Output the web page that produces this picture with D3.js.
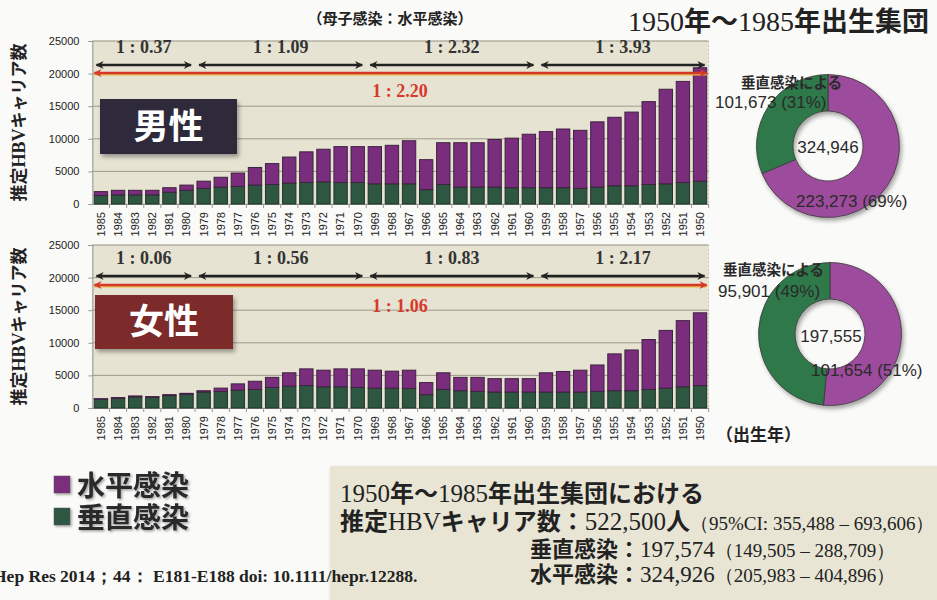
<!DOCTYPE html>
<html><head><meta charset="utf-8">
<script src="https://cdn.jsdelivr.net/npm/d3@7"></script>
<style>
html,body{margin:0;padding:0;background:#fafaf8;}
svg{display:block;}
</style></head><body>
<svg id="chart" width="937" height="600"></svg>
<script>
// Birth years, youngest cohort first (left to right)
const years = d3.range(1985, 1949, -1).map(String);

// Estimated HBV carriers per birth year (vertical = mother-to-child, horizontal)
const maleVertical = [1300,1400,1400,1400,1800,2100,2400,2600,2700,2900,3000,3200,3300,3400,3300,3300,3100,3100,
                      3100,2200,3000,2600,2600,2600,2500,2500,2500,2500,2400,2600,2800,2800,3000,3100,3300,3500];
const maleHorizontal = [600,700,700,700,700,800,1100,1500,2050,2700,3200,4000,4700,5000,5500,5500,5700,5900,
                        6600,4600,6400,6800,6800,7300,7600,8200,8600,9000,8900,10000,10500,11300,12700,14500,15500,17400];
const femaleVertical = [1350,1500,1700,1650,1900,2100,2450,2550,2750,2850,3150,3350,3450,3250,3250,3150,3050,3050,
                        3000,2050,2850,2650,2550,2450,2450,2450,2450,2450,2450,2550,2650,2650,2850,3050,3250,3450];
const femaleHorizontal = [80,100,150,100,150,150,200,500,950,1250,1550,2050,2550,2550,2750,2850,2750,2600,
                          2800,1850,2550,2050,2150,2050,2050,2050,2950,3150,3350,4050,5650,6250,7650,8850,10150,11150];

const yTicks = [0, 5000, 10000, 15000, 20000, 25000];

// Ratio (mother-to-child : horizontal) per period; periods are index ranges into years
const periods = [[0, 5], [6, 15], [16, 25], [26, 35]];
const maleRatios = ["1 : 0.37", "1 : 1.09", "1 : 2.32", "1 : 3.93"];
const maleOverall = "1 : 2.20";
const femaleRatios = ["1 : 0.06", "1 : 0.56", "1 : 0.83", "1 : 2.17"];
const femaleOverall = "1 : 1.06";

// Donut totals for the 1950–1985 cohort
const donutKeys = ["水平感染", "垂直感染"];
const maleDonut = [223273, 101673];
const femaleDonut = [101654, 95901];
const maleDonutLabels = ["垂直感染による", "101,673 (31%)", "324,946", "223,273 (69%)"];
const femaleDonutLabels = ["垂直感染による", "95,901 (49%)", "197,555", "101,654 (51%)"];

const COL = {
  horiz: "#7a2d7c", horizStroke: "#3f2241",
  vert: "#2d5741", vertStroke: "#23332a",
  donutH: "#9d4b9c", donutV: "#2f7848",
  plotBg: "#e6e3d2", grid: "#9d9b8c",
  red: "#d6392b", dark: "#2a2a2a"
};
const SERIF = "'Liberation Serif', 'DejaVu Serif', serif";
const SANS = "'Liberation Sans', Arial, sans-serif";
const CJK = "'Noto Sans CJK JP', 'Noto Sans', sans-serif";

const svg = d3.select("#chart");
const defs = svg.append("defs");

// shadows
const sh = defs.append("filter").attr("id", "shadow").attr("x", "-20%").attr("y", "-20%").attr("width", "150%").attr("height", "150%");
sh.append("feDropShadow").attr("dx", 2).attr("dy", 3).attr("stdDeviation", 2).attr("flood-color", "#000").attr("flood-opacity", 0.35);
const tsh = defs.append("filter").attr("id", "tshadow").attr("x", "-10%").attr("y", "-10%").attr("width", "130%").attr("height", "140%");
tsh.append("feDropShadow").attr("dx", 1.5).attr("dy", 1.5).attr("stdDeviation", 1).attr("flood-color", "#000").attr("flood-opacity", 0.35);

// arrow markers
function marker(id, color, reverse) {
  defs.append("marker").attr("id", id)
    .attr("viewBox", "0 0 10 10").attr("refX", reverse ? 1 : 9).attr("refY", 5)
    .attr("markerWidth", 9).attr("markerHeight", 8).attr("markerUnits", "userSpaceOnUse")
    .attr("orient", "auto")
    .append("path").attr("d", reverse ? "M10,0 L0,5 L10,10 L7,5 Z" : "M0,0 L10,5 L0,10 L3,5 Z")
    .attr("fill", color);
}
marker("aEndK", "#222", false); marker("aStartK", "#222", true);
marker("aEndR", COL.red, false); marker("aStartR", COL.red, true);

// ---------- page title ----------
const title = svg.append("text").attr("x", 628).attr("y", 31).attr("fill", "#222");
[["1950", SERIF, 28, 400], ["年〜", CJK, 27, 700], ["1985", SERIF, 28, 400], ["年出生集団", CJK, 27, 700]]
  .forEach(([t, f, s, w]) => title.append("tspan").text(t).attr("font-family", f).attr("font-size", s).attr("font-weight", w));

svg.append("text").attr("x", 390).attr("y", 24).attr("text-anchor", "middle")
  .attr("font-family", CJK).attr("font-weight", 700).attr("font-size", 15).attr("fill", "#222")
  .text("（母子感染：水平感染）");

// ---------- bar charts ----------
const x = d3.scaleBand().domain(years).range([92.4, 708.6]).paddingInner(0.22).paddingOuter(0.11);

function barChart(cfg) {
  const g = svg.append("g");
  const y = d3.scaleLinear().domain([0, 25000]).range([cfg.bottom, cfg.top]);

  g.append("rect").attr("x", 92.4).attr("y", cfg.top).attr("width", 616.2).attr("height", cfg.bottom - cfg.top)
    .attr("fill", COL.plotBg).attr("stroke", "#c9c7b8").attr("stroke-dasharray", "2,2");

  g.selectAll("line.grid").data(yTicks.slice(1)).join("line").attr("class", "grid")
    .attr("x1", 92.4).attr("x2", 708.6).attr("y1", d => y(d)).attr("y2", d => y(d))
    .attr("stroke", COL.grid).attr("stroke-width", 1);

  const yAxis = g.append("g").attr("transform", "translate(92.4,0)")
    .call(d3.axisLeft(y).tickValues(yTicks).tickSize(4).tickPadding(9).tickFormat(d3.format("d")));
  yAxis.select(".domain").attr("stroke", "#999");
  yAxis.selectAll(".tick line").attr("stroke", "#999");
  yAxis.selectAll("text").attr("font-family", SANS).attr("font-size", 11).attr("fill", "#222");

  const xAxis = g.append("g").attr("transform", `translate(0,${cfg.bottom})`)
    .call(d3.axisBottom(x).tickSize(4).tickSizeOuter(0));
  xAxis.select(".domain").attr("stroke", "#999");
  xAxis.selectAll(".tick line").attr("stroke", "#999").attr("transform", `translate(${x.step() / 2},0)`);
  xAxis.selectAll("text").attr("font-family", SANS).attr("font-size", 11).attr("fill", "#222")
    .attr("text-anchor", "end").attr("transform", "rotate(-90)")
    .attr("x", -8).attr("y", 0).attr("dy", "0.35em");

  const rows = years.map((yr, i) => ({ year: yr, vertical: cfg.vertical[i], horizontal: cfg.horizontal[i] }));
  const stack = d3.stack().keys(["vertical", "horizontal"])(rows);
  const fills = { vertical: [COL.vert, COL.vertStroke], horizontal: [COL.horiz, COL.horizStroke] };
  g.selectAll("g.series").data(stack).join("g").attr("class", "series")
    .each(function (s) {
      d3.select(this).selectAll("rect").data(s).join("rect")
        .attr("x", d => x(d.data.year)).attr("width", x.bandwidth())
        .attr("y", d => y(d[1])).attr("height", d => y(d[0]) - y(d[1]))
        .attr("fill", fills[s.key][0]).attr("stroke", fills[s.key][1]).attr("stroke-width", 1);
    });

  // y-axis title
  const yt = g.append("text").attr("transform", `translate(25,${(cfg.top + cfg.bottom) / 2}) rotate(-90)`)
    .attr("text-anchor", "middle").attr("fill", "#222").attr("font-weight", 700);
  yt.append("tspan").text("推定").attr("font-family", CJK).attr("font-size", 17);
  yt.append("tspan").text("HBV").attr("font-family", SERIF).attr("font-size", 18);
  yt.append("tspan").text("キャリア数").attr("font-family", CJK).attr("font-size", 17);

  // period arrows and ratios
  periods.forEach(([a, b], i) => {
    const x0 = x(years[a]) - x.step() * x.paddingInner() / 2;
    const x1 = x(years[b]) + x.bandwidth() + x.step() * x.paddingInner() / 2;
    g.append("line").attr("x1", x0 + 4).attr("x2", x1 - 4).attr("y1", cfg.blackY).attr("y2", cfg.blackY)
      .attr("stroke", "#222").attr("stroke-width", 2.5)
      .attr("marker-start", "url(#aStartK)").attr("marker-end", "url(#aEndK)");
    g.append("text").attr("x", (x0 + x1) / 2).attr("y", cfg.labelY).attr("text-anchor", "middle")
      .attr("font-family", SERIF).attr("font-weight", 700).attr("font-size", 18).attr("fill", "#333")
      .text(cfg.ratios[i]);
  });
  const rx0 = x(years[0]) - 4, rx1 = x(years[years.length - 1]) + x.bandwidth() + 4;
  g.append("line").attr("x1", rx0 + 4).attr("x2", rx1 - 4).attr("y1", cfg.redY + 1.5).attr("y2", cfg.redY + 1.5)
    .attr("stroke", "#e6b640").attr("stroke-width", 2);
  g.append("line").attr("x1", rx0 + 4).attr("x2", rx1 - 4).attr("y1", cfg.redY).attr("y2", cfg.redY)
    .attr("stroke", COL.red).attr("stroke-width", 2.5)
    .attr("marker-start", "url(#aStartR)").attr("marker-end", "url(#aEndR)");
  g.append("text").attr("x", 400).attr("y", cfg.redLabelY).attr("text-anchor", "middle")
    .attr("font-family", SERIF).attr("font-weight", 700).attr("font-size", 18).attr("fill", COL.red)
    .text(cfg.overall);

  // sex badge
  g.append("rect").attr("x", cfg.badge[0]).attr("y", cfg.badge[1]).attr("width", cfg.badge[2]).attr("height", cfg.badge[3])
    .attr("fill", cfg.badgeColor).attr("filter", "url(#shadow)");
  g.append("text").attr("x", cfg.badge[0] + cfg.badge[2] / 2).attr("y", cfg.badge[1] + cfg.badge[3] / 2 + 12)
    .attr("text-anchor", "middle").attr("font-family", CJK).attr("font-weight", 700).attr("font-size", 35)
    .attr("fill", "#fff").text(cfg.label);
}

barChart({ top: 41, bottom: 204, vertical: maleVertical, horizontal: maleHorizontal,
  ratios: maleRatios, overall: maleOverall, labelY: 53, blackY: 65, redY: 73, redLabelY: 96.5,
  badge: [100, 99, 137, 55], badgeColor: "#2d2b3b", label: "男性" });
barChart({ top: 245, bottom: 408, vertical: femaleVertical, horizontal: femaleHorizontal,
  ratios: femaleRatios, overall: femaleOverall, labelY: 264, blackY: 276, redY: 285, redLabelY: 312,
  badge: [95, 295, 138, 54], badgeColor: "#7b2a29", label: "女性" });

// ---------- donuts ----------
function donut(cx, cy, values, labels, pos) {
  const g = svg.append("g").attr("transform", `translate(${cx},${cy})`);
  const arcs = d3.pie().sort(null)(values);
  const arc = d3.arc().innerRadius(35).outerRadius(71.5);
  g.append("g").attr("filter", "url(#shadow)").selectAll("path").data(arcs).join("path")
    .attr("d", arc).attr("fill", (d, i) => i === 0 ? COL.donutH : COL.donutV)
    .attr("stroke", "#3a3a3a").attr("stroke-width", 0.8);
  labels.forEach((t, i) => {
    svg.append("text").attr("x", pos[i][0]).attr("y", pos[i][1])
      .attr("text-anchor", i === 2 ? "middle" : "start")
      .attr("font-family", i === 0 ? CJK : SANS).attr("font-weight", i === 0 ? 700 : 400)
      .attr("font-size", i === 0 ? 14.5 : 17).attr("fill", "#2a2a2a").text(t);
  });
}
donut(828, 146, maleDonut, maleDonutLabels, [[741, 88], [715, 108], [828, 153], [796, 207]]);
donut(830, 334, femaleDonut, femaleDonutLabels, [[723, 275], [718, 297], [831, 342], [811, 376]]);

svg.append("text").attr("x", 716).attr("y", 441).attr("font-family", CJK).attr("font-weight", 700)
  .attr("font-size", 17).attr("fill", "#222").text("（出生年）");

// ---------- legend ----------
const legend = svg.append("g");
[[COL.horiz, "水平感染", 476], [COL.vert, "垂直感染", 508]].forEach(([c, t, yy]) => {
  legend.append("rect").attr("x", 54).attr("y", yy).attr("width", 16).attr("height", 17)
    .attr("fill", c).attr("stroke", "#555").attr("stroke-width", 0.5).attr("filter", "url(#tshadow)");
  legend.append("text").attr("x", 77).attr("y", yy + 20).attr("font-family", CJK).attr("font-weight", 700)
    .attr("font-size", 28).attr("fill", "#2a2a2a").attr("filter", "url(#tshadow)").text(t);
});

// ---------- summary box ----------
svg.append("rect").attr("x", 330).attr("y", 466).attr("width", 620).attr("height", 140)
  .attr("fill", "#e8e5d5").attr("filter", "url(#shadow)");
function richLine(xx, yy, parts) {
  const t = svg.append("text").attr("x", xx).attr("y", yy).attr("fill", "#222");
  parts.forEach(([s, f, size, w]) => t.append("tspan").text(s).attr("font-family", f).attr("font-size", size).attr("font-weight", w || 400));
}
richLine(340, 502, [["1950", SERIF, 25], ["年〜", CJK, 24, 700], ["1985", SERIF, 25], ["年出生集団における", CJK, 24, 700]]);
richLine(340, 530, [["推定", CJK, 24, 700], ["HBV", SERIF, 25], ["キャリア数：", CJK, 24, 700], ["522,500", SERIF, 25],
  ["人", CJK, 24, 700], ["（95%CI: 355,488 – 693,606）", SERIF, 19]]);
richLine(530, 557, [["垂直感染：", CJK, 22, 700], ["197,574", SERIF, 23], ["（149,505 – 288,709）", SERIF, 19]]);
richLine(530, 582, [["水平感染：", CJK, 22, 700], ["324,926", SERIF, 23], ["（205,983 – 404,896）", SERIF, 19]]);

// ---------- citation ----------
svg.append("text").attr("x", -7).attr("y", 582).attr("font-family", SERIF).attr("font-weight", 700)
  .attr("font-size", 17.5).attr("fill", "#222")
  .text("Hep Res 2014；44： E181-E188 doi: 10.1111/hepr.12288.");
</script>
</body></html>
